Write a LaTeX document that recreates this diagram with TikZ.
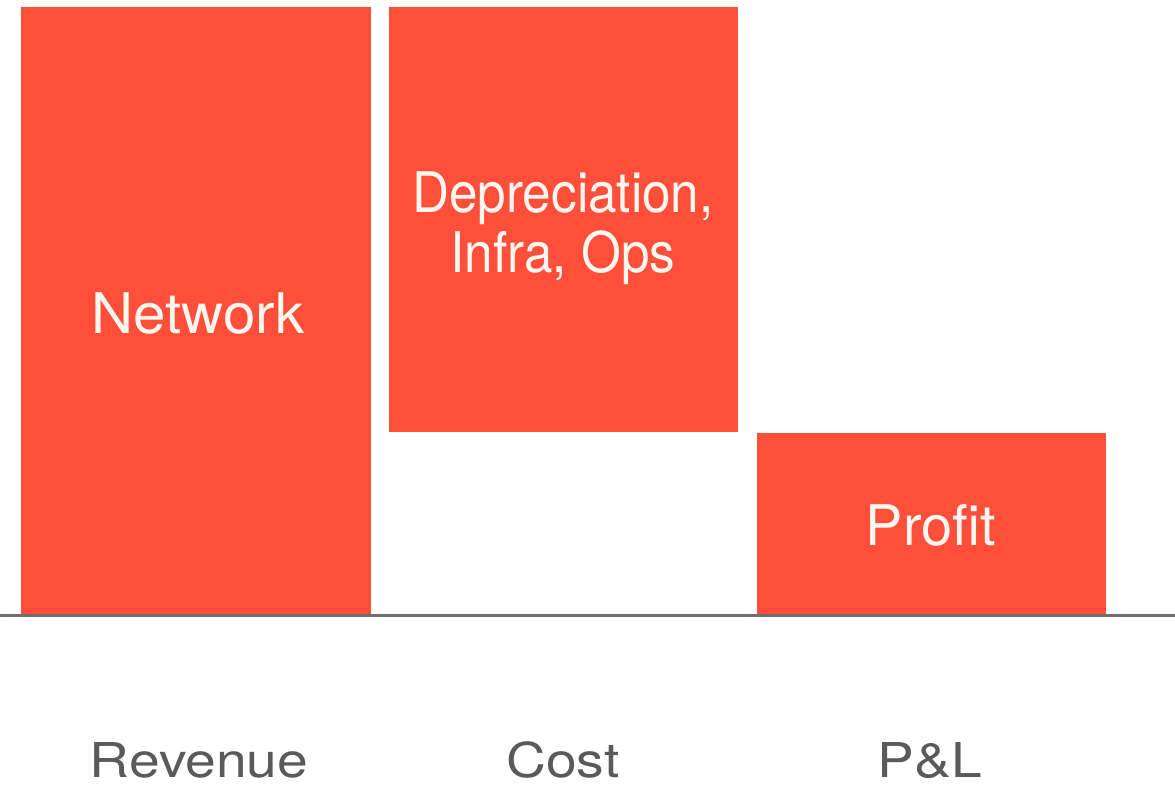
\documentclass[tikz,border=0pt]{standalone}
\usepackage{fontspec}
\setmainfont{TeX Gyre Heros}
\definecolor{barred}{RGB}{255,79,58}
\definecolor{axisgray}{RGB}{110,110,110}
\definecolor{labelgray}{RGB}{90,90,90}
\definecolor{bartext}{RGB}{255,246,240}
\tikzset{
  bar/.style={fill=barred, draw=none, inner sep=0pt, anchor=north west},
  bartxt/.style={text=bartext, inner sep=0pt, anchor=base, font=\fontsize{56}{60}\selectfont},
  axlabel/.style={text=labelgray, inner sep=0pt, anchor=base, font=\fontsize{48}{56}\selectfont},
  axisline/.style={draw=axisgray, line width=3pt}
}
\begin{document}
\begin{tikzpicture}[x=1pt,y=-1pt]
\useasboundingbox (0,0) rectangle (1175,793);
% bars
\node[bar, minimum width=350pt, minimum height=607pt] (net) at (21,7) {};
\node[bar, minimum width=349pt, minimum height=425pt] (cost) at (389,7) {};
\node[bar, minimum width=349pt, minimum height=181pt] (profit) at (757,433) {};
% baseline
\coordinate (axL) at (0,615.5);
\coordinate (axR) at (1175,615.5);
\draw[axisline] (axL) -- (axR);
% bar texts
\node[bartxt] (tnet) at (198,333) {\scalebox{1.04}[1]{Network}};
\node[bartxt] (tdep) at (563,212) {\scalebox{0.915}[1]{Depreciation,}};
\node[bartxt] (tinf) at (563,272) {\scalebox{0.915}[1]{Infra, Ops}};
\node[bartxt] (tpro) at (931,545) {Profit};
% axis labels
\node[axlabel] (lrev) at (199,777) {\scalebox{1.15}[1]{Revenue}};
\node[axlabel] (lcost) at (563,777) {\scalebox{1.15}[1]{Cost}};
\node[axlabel] (lpl) at (930,777) {\scalebox{1.15}[1]{P\&L}};
\end{tikzpicture}
\end{document}
